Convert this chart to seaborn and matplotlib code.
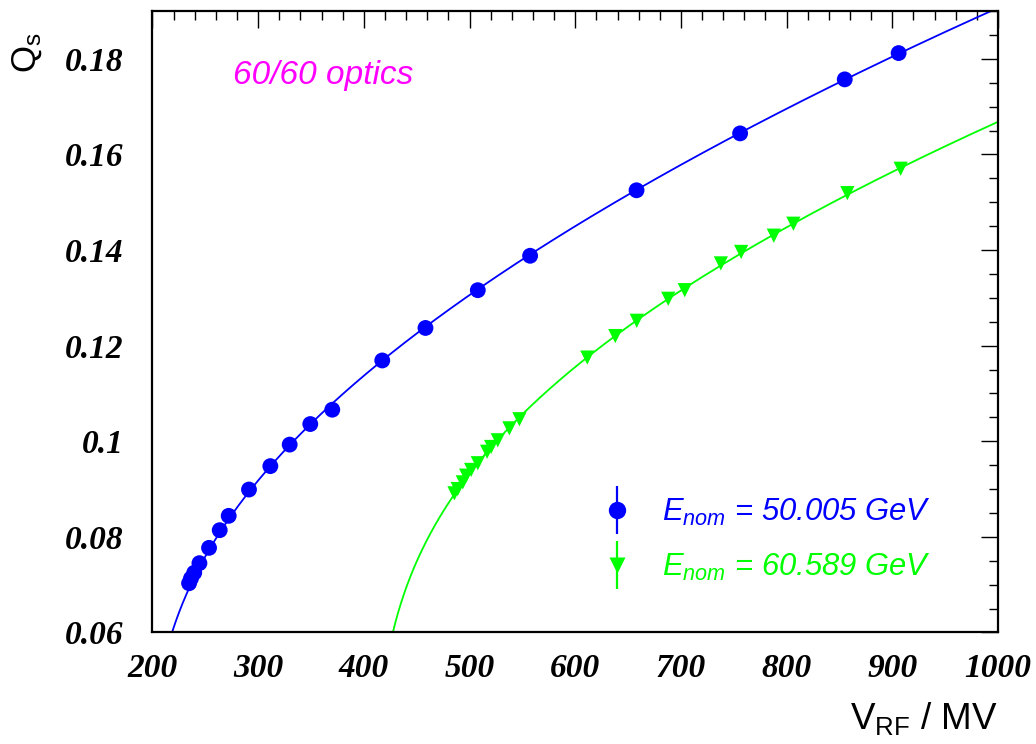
import numpy as np
import pandas as pd
import matplotlib
matplotlib.use("Agg")
import matplotlib.pyplot as plt
from matplotlib.lines import Line2D
from matplotlib.legend_handler import HandlerTuple
from matplotlib.ticker import MultipleLocator, FuncFormatter
from matplotlib.font_manager import FontProperties
import seaborn as sns

# ---------------- data ----------------
v_blue = [234.6, 236.4, 239.5, 244.4, 253.5, 263.6, 272.1, 291.3, 311.5, 329.8,
          349.3, 370.1, 417.4, 458.3, 507.8, 557.3, 658.0, 756.0, 855.0, 906.0]
q_blue = [0.0703, 0.0713, 0.0725, 0.0745, 0.0777, 0.0814, 0.0844, 0.0899, 0.0948, 0.0993,
          0.1036, 0.1066, 0.1169, 0.1237, 0.1316, 0.1388, 0.1525, 0.1644, 0.1757, 0.1812]

v_green = [485.7, 488.8, 493.6, 496.8, 501.5, 507.8, 516.6, 520.4, 526.7, 537.7, 547.2,
           611.4, 637.9, 658.2, 688.0, 703.6, 737.8, 757.0, 787.9, 806.4, 857.5, 907.9]
q_green = [0.0891, 0.0900, 0.0914, 0.0928, 0.0940, 0.0954, 0.0978, 0.0988, 0.1002, 0.1027, 0.1046,
           0.1175, 0.1220, 0.1252, 0.1298, 0.1316, 0.1372, 0.1396, 0.1430, 0.1455, 0.1519, 0.1570]

label_blue = "$E_{nom}$ = 50.005 GeV"
label_green = "$E_{nom}$ = 60.589 GeV"
annotation = "60/60 optics"
x_ticks = [200, 300, 400, 500, 600, 700, 800, 900, 1000]
y_ticks = [0.06, 0.08, 0.10, 0.12, 0.14, 0.16, 0.18]

BLUE = "#0000ff"
GREEN = "#00ff00"
MAGENTA = "#ff00ff"

# ---------------- style ----------------
sns.set_style("white")
plt.rcParams["font.family"] = ["Liberation Sans", "DejaVu Sans"]
plt.rcParams["mathtext.fontset"] = "custom"
plt.rcParams["mathtext.rm"] = "Liberation Sans"
plt.rcParams["mathtext.it"] = "Liberation Sans:italic"
plt.rcParams["mathtext.bf"] = "Liberation Sans:bold"
plt.rcParams["text.color"] = "black"
plt.rcParams["axes.labelcolor"] = "black"
plt.rcParams["xtick.color"] = "black"
plt.rcParams["ytick.color"] = "black"

fig = plt.figure(figsize=(10.36, 7.44), dpi=100)
ax = fig.add_axes([0.1472, 0.1499, 0.8161, 0.8353])

# ---------------- fitted curves: Qs^4 linear in V^2 ----------------
grid = np.linspace(150, 1000, 1200)
for vx, qy, col in [(v_blue, q_blue, BLUE), (v_green, q_green, GREEN)]:
    vx = np.asarray(vx)
    qy = np.asarray(qy)
    a, b = np.polyfit(vx ** 2, qy ** 4, 1)
    arg = a * grid ** 2 + b
    mask = arg > 0
    fit = np.power(arg[mask], 0.25)
    sns.lineplot(x=grid[mask], y=fit, ax=ax, color=col, lw=1.3,
                 estimator=None, sort=False, legend=False)

df_b = pd.DataFrame({"V": v_blue, "Q": q_blue})
df_g = pd.DataFrame({"V": v_green, "Q": q_green})
sns.scatterplot(data=df_b, x="V", y="Q", ax=ax, marker="o", s=130,
                color=BLUE, edgecolor="none", zorder=5, legend=False)
sns.scatterplot(data=df_g, x="V", y="Q", ax=ax, marker="v", s=105,
                color=GREEN, edgecolor="none", zorder=5, legend=False)

# ---------------- axes ----------------
ax.set_xlim(200, 1000)
ax.set_ylim(0.06, 0.19)
ax.set_xticks(x_ticks)
ax.set_yticks(y_ticks)
ax.xaxis.set_minor_locator(MultipleLocator(20))
ax.yaxis.set_minor_locator(MultipleLocator(0.005))
ax.yaxis.set_major_formatter(FuncFormatter(lambda v, p: "%g" % round(v, 3)))
ax.xaxis.set_major_formatter(FuncFormatter(lambda v, p: "%d" % v))

for s in ax.spines.values():
    s.set_linewidth(1.6)
    s.set_color("black")

ax.tick_params(which="both", direction="in", top=True, right=True,
               color="black", width=1.0, labelcolor="black")
ax.tick_params(which="major", length=12.2)
ax.tick_params(which="minor", length=6.3)
ax.tick_params(axis="y", which="major", pad=21)
ax.tick_params(axis="x", which="major", pad=15)

tick_font = FontProperties(family="Liberation Serif", weight="bold", style="italic", size=24)
for lab in ax.get_xticklabels() + ax.get_yticklabels():
    lab.set_fontproperties(tick_font)

ax.set_xlabel(r"V$_{\mathrm{RF}}$ / MV", fontsize=26.5, loc="right", color="black")
ax.xaxis.set_label_coords(1.0, -0.108)
ax.set_ylabel(r"Q$_{\mathrm{s}}$", fontsize=25, loc="top", color="black")
ax.yaxis.set_label_coords(-0.128, 0.966)

ax.text(0.0952, 0.897, annotation, transform=ax.transAxes, ha="left", va="center",
        color=MAGENTA, fontsize=24, style="italic")

# ---------------- legend ----------------
hb = (Line2D([], [], ls="none", marker="|", markersize=34, mew=1.6, color=BLUE),
      Line2D([], [], ls="none", marker="o", markersize=12.5, color=BLUE, mec="none"))
hg = (Line2D([], [], ls="none", marker="|", markersize=34, mew=1.6, color=GREEN),
      Line2D([], [], ls="none", marker="v", markersize=11.5, color=GREEN, mec="none"))
leg = ax.legend([hb, hg], [label_blue, label_green],
                handler_map={tuple: HandlerTuple(ndivide=1)},
                loc="center left", bbox_to_anchor=(0.5316, 0.149),
                frameon=False, prop=dict(family="Liberation Sans", style="italic", size=22.3),
                handlelength=1.0, handletextpad=0.93, labelspacing=0.75,
                borderpad=0, borderaxespad=0, labelcolor=[BLUE, GREEN])

fig.savefig("out.png", dpi=100)
